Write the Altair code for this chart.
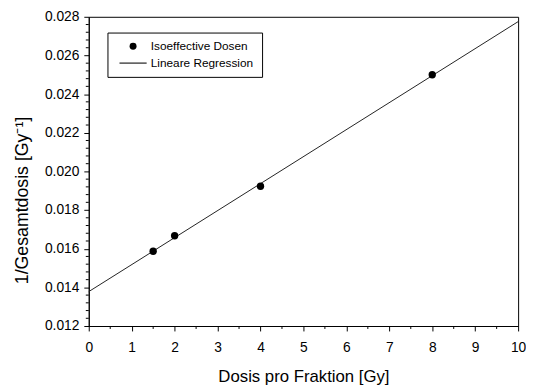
import altair as alt
import pandas as pd

# Data
dose_per_fraction = [1.5, 2.0, 4.0, 8.0]
inv_total_dose = [0.01587, 0.01667, 0.01923, 0.02500]
reg_x = [0.0, 10.0]
reg_y = [0.01378, 0.02775]
series = ["Isoeffective Dosen", "Lineare Regression"]

x_major = [0, 1, 2, 3, 4, 5, 6, 7, 8, 9, 10]
x_minor = [0.5, 1.5, 2.5, 3.5, 4.5, 5.5, 6.5, 7.5, 8.5, 9.5]
y_major = [0.012, 0.014, 0.016, 0.018, 0.020, 0.022, 0.024, 0.026, 0.028]
y_minor = [round(0.012 + 0.0004 * i, 4) for i in range(41) if i % 5 != 0]

pts = pd.DataFrame({"x": dose_per_fraction, "y": inv_total_dose, "series": series[0]})
reg = pd.DataFrame({"x": reg_x, "y": reg_y, "series": series[1]})
xmin_df = pd.DataFrame({"v": x_minor})
ymin_df = pd.DataFrame({"v": y_minor})

FONT = "Liberation Sans"
W, H = 436, 314
xscale = alt.Scale(domain=[0, 10], nice=False, zero=False)
yscale = alt.Scale(domain=[0.012, 0.028], nice=False, zero=False)

line = alt.Chart(reg).mark_line(color="#222222", strokeWidth=1).encode(
    x=alt.X("x:Q", scale=xscale,
            axis=alt.Axis(values=x_major, format="d", title="Dosis pro Fraktion [Gy]",
                          orient="bottom", tickSize=5, labelPadding=10, titlePadding=14,
                          labelFontSize=14, titleFontSize=17, labelFont=FONT, titleFont=FONT,
                          titleFontWeight="normal", grid=False, domainColor="black",
                          tickColor="black", labelColor="black", titleColor="black",
                          labelFlush=False)),
    y=alt.Y("y:Q", scale=yscale,
            axis=alt.Axis(values=y_major, format=".3f", title="1/Gesamtdosis [Gy⁻¹]",
                          orient="left", tickSize=5, labelPadding=5, titlePadding=13,
                          labelFontSize=14, titleFontSize=18, labelFont=FONT, titleFont=FONT,
                          titleFontWeight="normal", grid=False, domainColor="black",
                          tickColor="black", labelColor="black", titleColor="black",
                          labelFlush=False, titleY=186)),
)

points = alt.Chart(pts).mark_point(filled=True, color="black", size=56, opacity=1).encode(
    x=alt.X("x:Q", scale=xscale, axis=None),
    y=alt.Y("y:Q", scale=yscale, axis=None),
    shape=alt.Shape("series:N",
                    scale=alt.Scale(domain=series,
                                    range=["circle", "M-3.9,-0.15L3.9,-0.15L3.9,0.15L-3.9,0.15Z"]),
                    legend=alt.Legend(title=None, orient="none", legendX=19, legendY=16,
                                      padding=8, strokeColor="black", fillColor="white",
                                      labelFont=FONT, labelFontSize=12, labelColor="black",
                                      symbolOffset=12, labelOffset=12, rowPadding=4,
                                      symbolSize=50, symbolFillColor="black")),
)

# minor ticks, positioned through the shared scales
x_minor_ticks = alt.Chart(xmin_df).mark_rule(color="black", strokeWidth=1).encode(
    x=alt.X("v:Q", scale=xscale, axis=None),
    y=alt.value(H), y2=alt.value(H + 3),
)
y_minor_ticks = alt.Chart(ymin_df).mark_rule(color="black", strokeWidth=1).encode(
    y=alt.Y("v:Q", scale=yscale, axis=None),
    x=alt.value(-3), x2=alt.value(0),
)

chart = alt.layer(line, points, x_minor_ticks, y_minor_ticks).resolve_axis(
    x="independent", y="independent"
).properties(
    width=W, height=H,
    background="white",
    autosize=alt.AutoSizeParams(type="none"),
    padding={"left": 82, "top": 6, "right": 8, "bottom": 60},
).configure_view(stroke="black", strokeWidth=1)

chart.save("out.html", embed_options={"renderer": "svg", "actions": False})
